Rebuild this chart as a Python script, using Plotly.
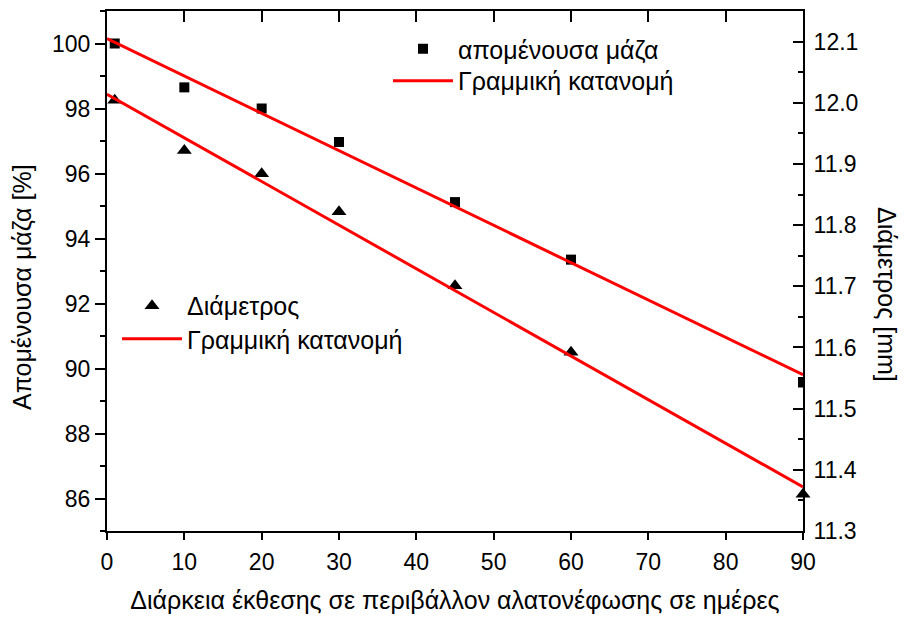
import plotly.graph_objects as go

days = [1, 10, 20, 30, 45, 60, 90]
mass_pct = [100.0, 98.65, 98.0, 96.97, 95.12, 93.35, 89.57]
diam_mm = [12.004, 11.922, 11.884, 11.822, 11.701, 11.592, 11.36]

fit_x = [0, 90]
mass_fit = [100.15, 89.81]
diam_fit = [12.014, 11.372]

x_title = "Διάρκεια έκθεσης σε περιβάλλον αλατονέφωσης σε ημέρες"
y_title = "Απομένουσα μάζα [%]"
y2_title = "Διάμετρος [mm]"
mass_name = "απομένουσα μάζα"
diam_name = "Διάμετρος"
fit_name = "Γραμμική κατανομή"

FONT = "Liberation Sans, Arial, sans-serif"
RED = "#ff0000"
TICK = 23
TITLE = 25
LEG = 25

fig = go.Figure()
fig.add_trace(go.Scatter(x=days, y=mass_pct, mode="markers", name=mass_name,
                         marker=dict(symbol="square", size=10, color="black"),
                         legend="legend", xaxis="x", yaxis="y"))
fig.add_trace(go.Scatter(x=fit_x, y=mass_fit, mode="lines", name=fit_name,
                         line=dict(color=RED, width=3),
                         legend="legend2", xaxis="x2", yaxis="y"))
fig.add_trace(go.Scatter(x=days, y=diam_mm, mode="markers", name=diam_name,
                         marker=dict(symbol="triangle-up", size=13, color="black"),
                         cliponaxis=False,
                         legend="legend3", xaxis="x", yaxis="y2"))
fig.add_trace(go.Scatter(x=fit_x, y=diam_fit, mode="lines", name=fit_name,
                         line=dict(color=RED, width=3),
                         legend="legend4", xaxis="x", yaxis="y2"))

axis_common = dict(showline=True, linecolor="black", linewidth=2, automargin=False,
                   showgrid=False, zeroline=False, tickcolor="black", tickwidth=2,
                   tickfont=dict(family=FONT, size=TICK, color="black"))

def leg(x, y):
    return dict(x=x, y=y, xanchor="left", yanchor="middle",
                bgcolor="rgba(0,0,0,0)", font=dict(family=FONT, size=LEG, color="black"),
                itemwidth=60)

fig.update_layout(
    width=905, height=617,
    margin=dict(l=107, r=102, t=11, b=86, autoexpand=False),
    paper_bgcolor="white", plot_bgcolor="white",
    font=dict(family=FONT, size=TICK, color="black"),
    showlegend=True,
    xaxis=dict(range=[0, 90], dtick=10, tick0=0, ticks="outside", ticklen=7,
               ticklabelstandoff=2,
               title=dict(text=x_title, font=dict(family=FONT, size=TITLE), standoff=18),
               **axis_common),
    xaxis2=dict(range=[0, 90], dtick=10, tick0=0, ticks="inside", ticklen=11,
                overlaying="x", side="top", anchor="y", showticklabels=False,
                **axis_common),
    yaxis=dict(range=[85, 101], dtick=2, tick0=86, ticks="outside", ticklen=10,
               minor=dict(dtick=1, ticklen=5, tickwidth=2, tickcolor="black", ticks="outside"),
               **axis_common),
    yaxis2=dict(range=[11.3, 12.15], dtick=0.1, tick0=11.3, ticks="inside", ticklen=10,
                tickformat=".1f",
                minor=dict(dtick=0.05, ticklen=5, tickwidth=2, tickcolor="black", ticks="inside"),
                overlaying="y", side="right", anchor="x", ticklabelstandoff=4,
                **axis_common),
    legend=leg(0.4037, 0.9269),
    legend2=leg(0.4037, 0.8654),
    legend3=leg(0.0144, 0.4327),
    legend4=leg(0.0144, 0.3692),
    annotations=[
        dict(text=y_title, textangle=-90, xref="paper", yref="paper",
             x=-0.1221, y=0.4692, xanchor="center", yanchor="middle",
             showarrow=False, font=dict(family=FONT, size=TITLE, color="black")),
        dict(text=y2_title, textangle=90, xref="paper", yref="paper",
             x=1.1207, y=0.4558, xanchor="center", yanchor="middle",
             showarrow=False, font=dict(family=FONT, size=TITLE, color="black")),
    ],
)

fig.write_html("out.html")
